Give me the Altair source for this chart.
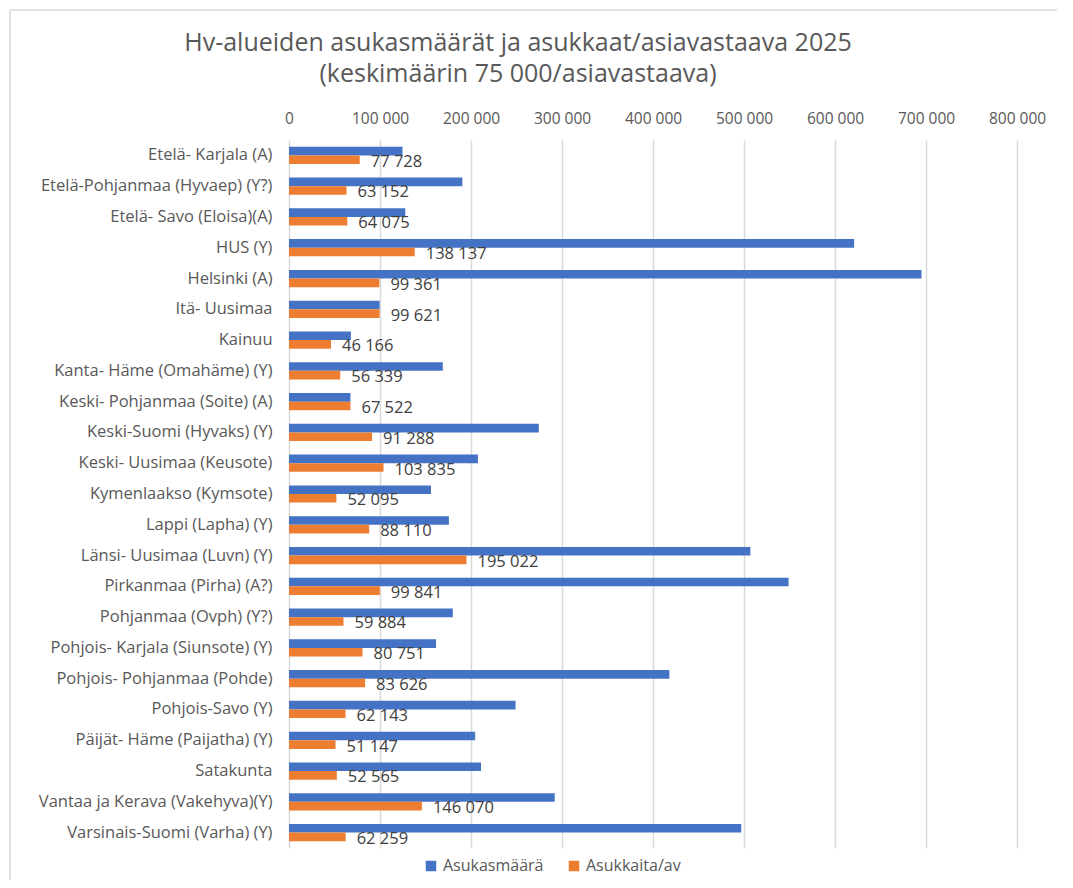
import altair as alt
import pandas as pd

regions = [
    "Etelä- Karjala (A)",
    "Etelä-Pohjanmaa (Hyvaep) (Y?)",
    "Etelä- Savo (Eloisa)(A)",
    "HUS (Y)",
    "Helsinki (A)",
    "Itä- Uusimaa",
    "Kainuu",
    "Kanta- Häme (Omahäme) (Y)",
    "Keski- Pohjanmaa (Soite) (A)",
    "Keski-Suomi (Hyvaks) (Y)",
    "Keski- Uusimaa (Keusote)",
    "Kymenlaakso (Kymsote)",
    "Lappi (Lapha) (Y)",
    "Länsi- Uusimaa (Luvn) (Y)",
    "Pirkanmaa (Pirha) (A?)",
    "Pohjanmaa (Ovph) (Y?)",
    "Pohjois- Karjala (Siunsote) (Y)",
    "Pohjois- Pohjanmaa (Pohde)\u00a0",
    "Pohjois-Savo (Y)",
    "Päijät- Häme (Paijatha) (Y)",
    "Satakunta\u00a0",
    "Vantaa ja Kerava (Vakehyva)(Y)",
    "Varsinais-Suomi (Varha) (Y)",
]

asukasmaara = [124700, 190500, 127800, 621000, 695000, 99621, 68000, 169000,
               67522, 274500, 207600, 156000, 175700, 507000, 549000, 180000,
               161600, 418000, 249000, 204600, 211000, 292000, 497000]

asukkaita_av = [77728, 63152, 64075, 138137, 99361, 99621, 46166, 56339,
                67522, 91288, 103835, 52095, 88110, 195022, 99841, 59884,
                80751, 83626, 62143, 51147, 52565, 146070, 62259]

series_names = ["Asukasmäärä", "Asukkaita/av"]
colors = ["#4472C4", "#ED7D31"]

rows = []
for r, a, b in zip(regions, asukasmaara, asukkaita_av):
    rows.append({"region": r, "series": series_names[0], "value": a, "label": ""})
    rows.append({"region": r, "series": series_names[1], "value": b,
                 "label": f"{b:,}".replace(",", " ")})
df = pd.DataFrame(rows)

FONT = "Open Sans"
GRAY = "#595959"

y_enc = alt.Y("region:N", sort=regions, title=None,
              scale=alt.Scale(paddingInner=0.44, paddingOuter=0.22),
              axis=alt.Axis(labelFont=FONT, labelFontSize=16.5, labelColor=GRAY,
                            labelPadding=17, ticks=False, domain=False, grid=False,
                            labelLimit=400))
yoff = alt.YOffset("series:N", sort=series_names,
                   scale=alt.Scale(domain=series_names, paddingInner=0, paddingOuter=0))
x_enc = alt.X("value:Q", title=None,
              scale=alt.Scale(domain=[0, 800000], nice=False),
              axis=alt.Axis(orient="top", values=list(range(0, 800001, 100000)),
                            labelExpr="replace(format(datum.value, ','), /,/g, ' ')",
                            labelFont=FONT, labelFontSize=15.5, labelColor=GRAY,
                            labelPadding=14, ticks=False, domain=False,
                            labelFlush=False, labelOverlap=False, labelBound=False,
                            grid=True, gridColor="#d9d9d9", gridWidth=1.5))

base = alt.Chart(df)

bars = base.mark_bar().encode(
    y=y_enc, yOffset=yoff, x=x_enc,
    color=alt.Color("series:N", sort=series_names,
                    scale=alt.Scale(domain=series_names, range=colors),
                    legend=alt.Legend(title=None, orient="none", direction="horizontal",
                                      legendX=134, legendY=718,
                                      symbolType="square", symbolSize=110,
                                      symbolStrokeWidth=0,
                                      labelFont=FONT, labelFontSize=16,
                                      labelColor=GRAY, columnPadding=22,
                                      labelOffset=4)),
)

labels = base.transform_filter(alt.datum.series == series_names[1]).mark_text(
    align="left", baseline="middle", dx=11, dy=2, font=FONT, fontSize=16.5,
    color="#404040"
).encode(y=y_enc, yOffset=yoff, x=x_enc, text="label:N")

border_left = alt.Chart(pd.DataFrame({"k": [0]})).mark_rule(
    color="#d9d9d9", strokeWidth=1.5
).encode(x=alt.value(-279), y=alt.value(-130), y2=alt.value(745))
border_top = alt.Chart(pd.DataFrame({"k": [0]})).mark_rule(
    color="#d9d9d9", strokeWidth=1.5
).encode(x=alt.value(-279), x2=alt.value(780), y=alt.value(-130))

chart = alt.layer(border_left, border_top, bars, labels).properties(
    width=728, height=708,
    autosize=alt.AutoSizeParams(type="none"),
    padding={"left": 281, "top": 132, "right": 40, "bottom": 32},
    title=alt.TitleParams(
        ["Hv-alueiden asukasmäärät ja asukkaat/asiavastaava 2025",
         "(keskimäärin 75 000/asiavastaava)"],
        anchor="middle", frame="group", dx=-135, offset=-78,
        font=FONT, fontSize=25, fontWeight="normal", color=GRAY, lineHeight=31),
).configure_view(stroke=None)

chart.save("out.html", embed_options={"renderer": "svg", "actions": False})
